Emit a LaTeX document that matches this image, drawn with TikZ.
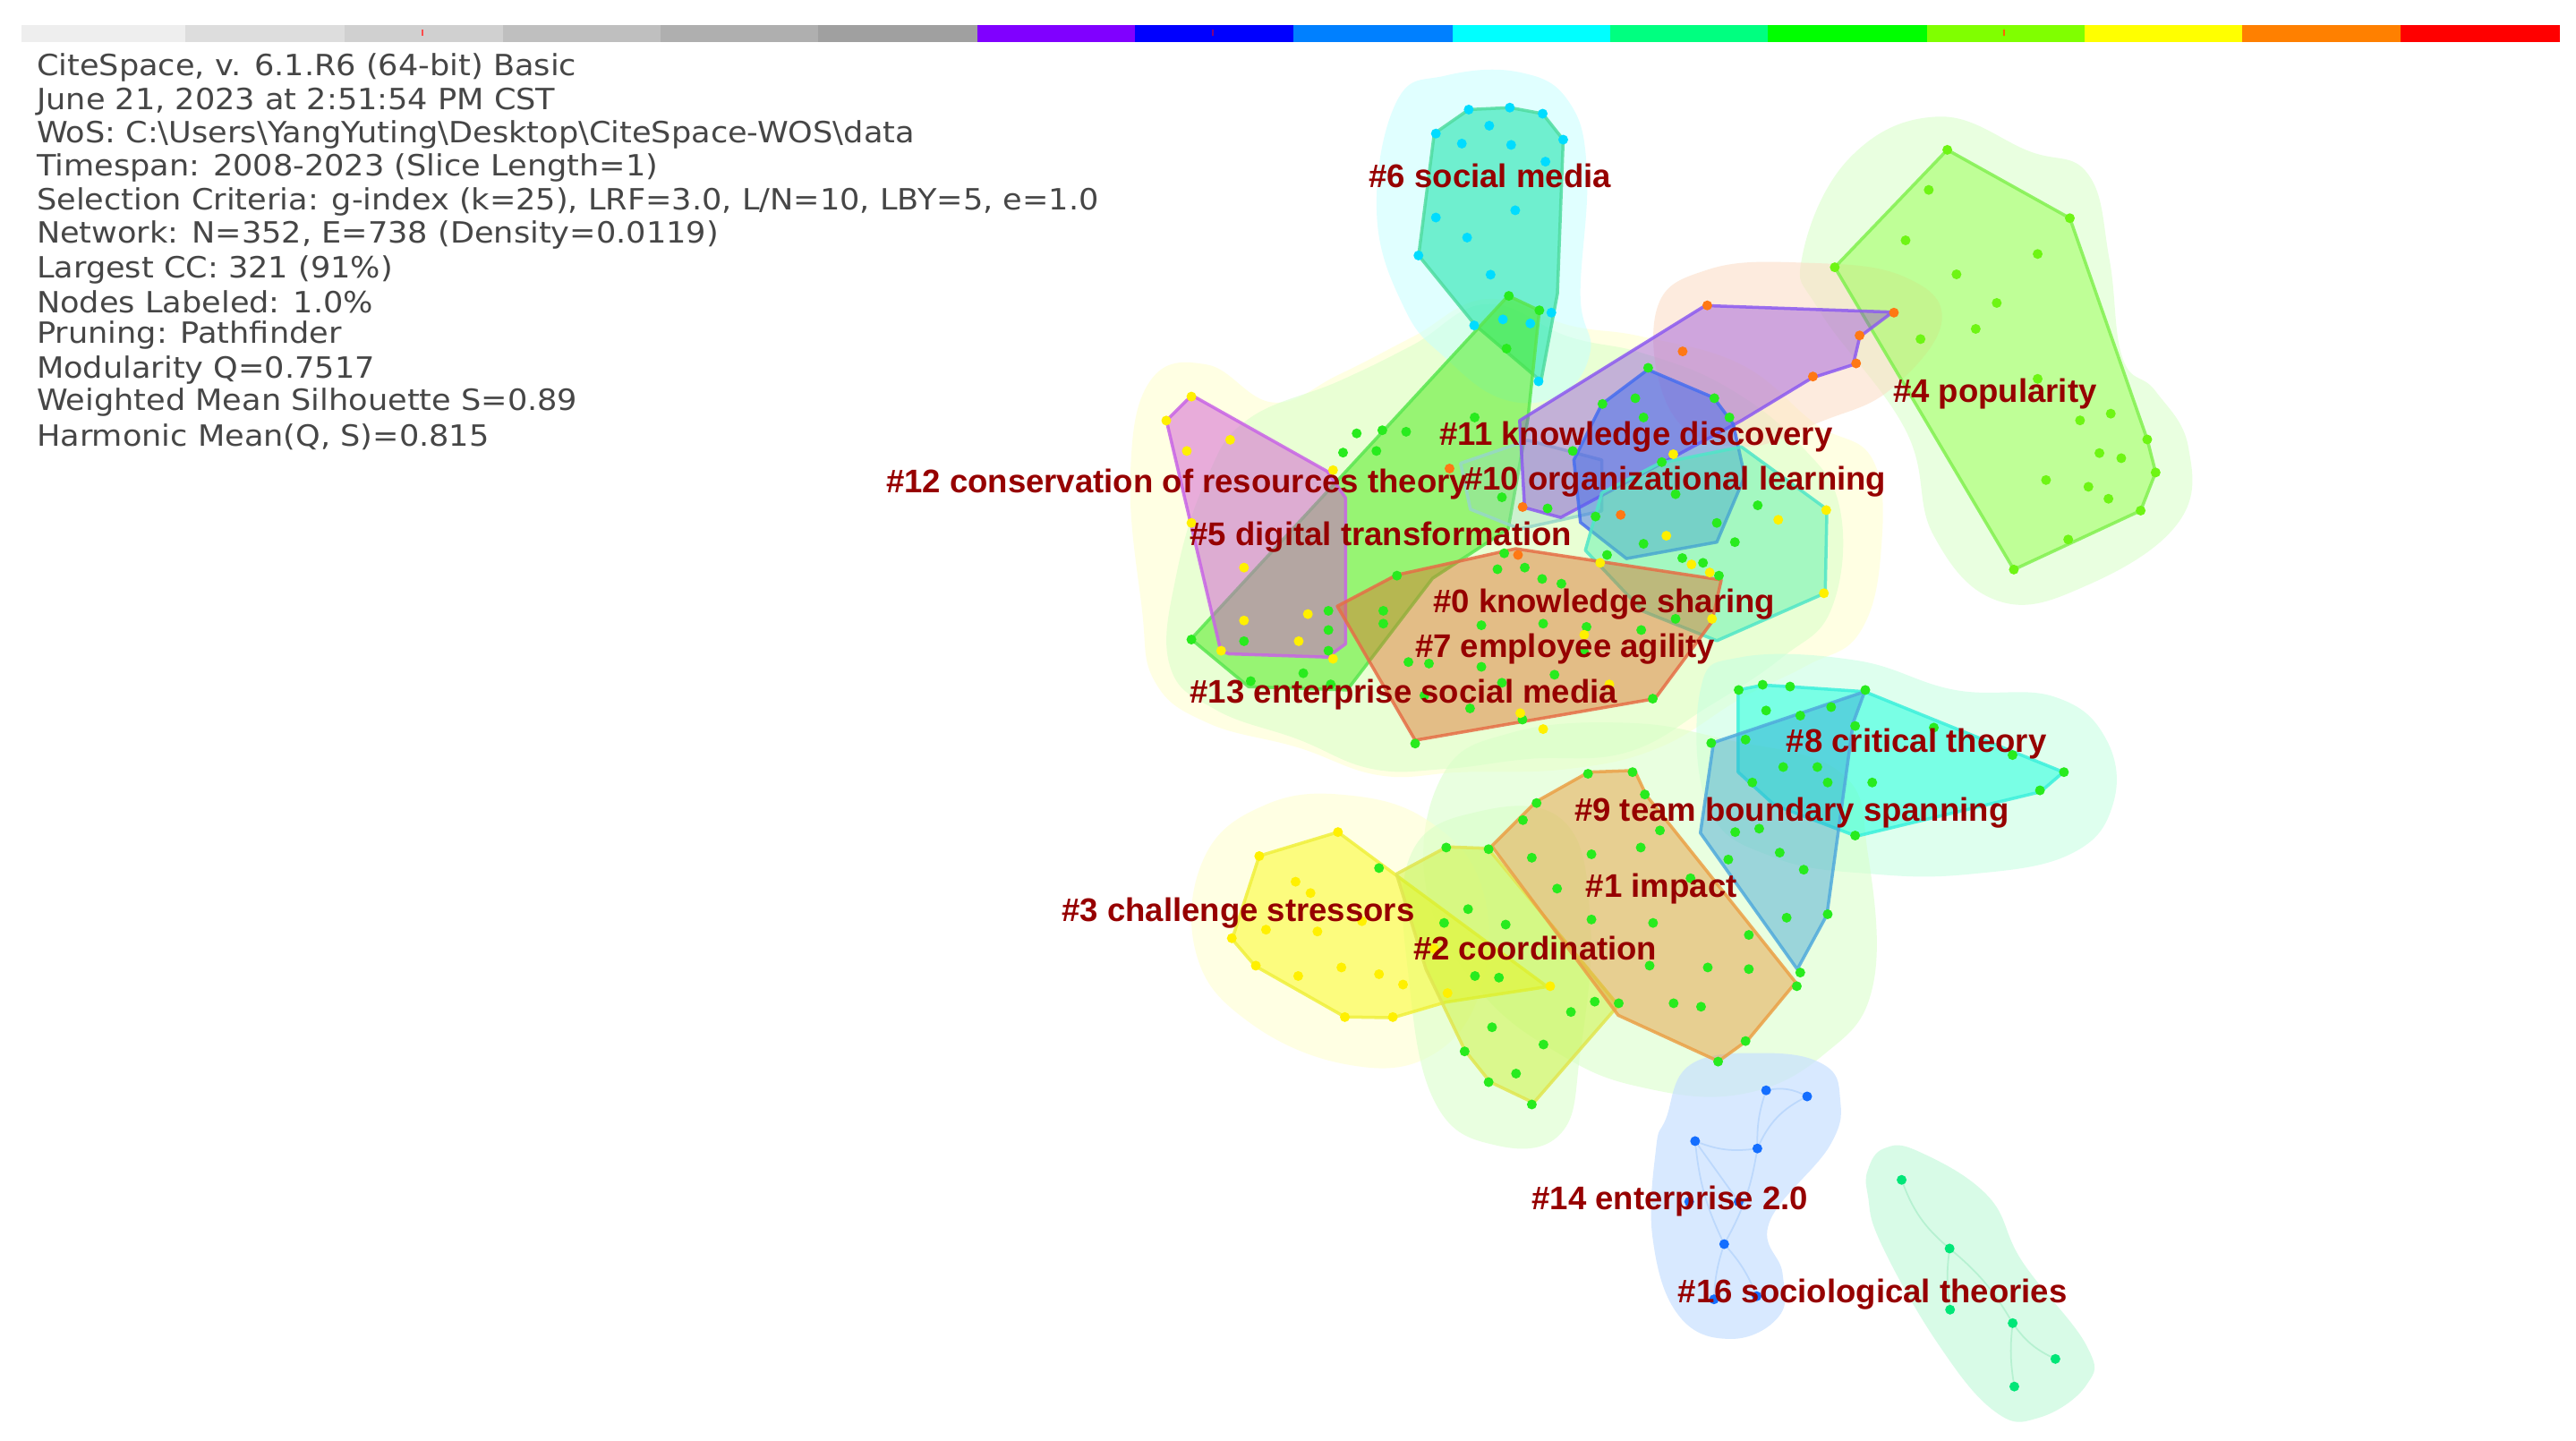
\documentclass[tikz,border=0pt]{standalone}
\usepackage{fontspec}
\newfontfamily\labfont{Liberation Sans}
\newfontfamily\infofont[FakeStretch=1.075]{DejaVu Sans}
\definecolor{labred}{RGB}{150,0,0}
\definecolor{infogray}{RGB}{70,70,70}
\definecolor{dgreen}{RGB}{40,235,30}
\definecolor{dyellow}{RGB}{255,240,0}
\definecolor{dorange}{RGB}{255,120,20}
\definecolor{dcyan}{RGB}{0,220,255}
\definecolor{dblue}{RGB}{20,110,255}
\definecolor{dspring}{RGB}{0,230,120}
\definecolor{dlime}{RGB}{110,245,20}
\tikzset{
  labelsty/.style={anchor=west, inner sep=0pt, font=\labfont\bfseries\fontsize{10.4}{12}\selectfont, text=labred},
  infosty/.style={anchor=west, inner sep=0pt, font=\infofont\fontsize{9.3}{11}\selectfont, text=infogray},
  halo/.style={draw=none, fill opacity=0.55},
  hull/.style={line width=1pt, fill opacity=0.5, draw opacity=0.85, line join=round},
  barseg/.style={draw=none},
  faint/.style={line width=0.5pt, draw opacity=0.6}
}
\begin{document}
\begin{tikzpicture}[x=0.018355cm,y=-0.018355cm]
\useasboundingbox (0,0) rectangle (1568,877.1);
\fill[white] (0,0) rectangle (1568,877.1);
% ---------- colour bar ----------
\foreach \a/\b/\c in {13/113/EEEEEE,113/210/DDDDDD,210/306/D0D0D0,306/402/BFBFBF,402/498/AFAFAF,498/595/A0A0A0,595/691/8000FF,691/787/0000FF,787/884/0080FF,884/980/00FFFF,980/1076/00FF80,1076/1173/00FF00,1173/1269/80FF00,1269/1365/FFFF00,1365/1461/FF8000,1461/1558/FF0000}{
  \definecolor{segc}{HTML}{\c}
  \fill[barseg, segc] (\a,15.5) rectangle (\b,25.5);
}
\draw[red!70, line width=0.6pt] (257,18) -- (257,22);
\draw[violet, line width=0.6pt] (738,18) -- (738,22);
\draw[orange!80!red, line width=0.6pt] (1220,18) -- (1220,22);
% ---------- halos ----------
\definecolor{hcyan}{RGB}{200,255,255}
\definecolor{hgreen}{RGB}{215,255,200}
\definecolor{hyellow}{RGB}{255,255,205}
\definecolor{hpeach}{RGB}{252,220,195}
\definecolor{hmint}{RGB}{195,255,225}
\definecolor{hblue}{RGB}{200,225,255}
\definecolor{hspring}{RGB}{200,250,222}
\definecolor{hteal}{RGB}{150,215,200}
% central big halo (yellowish)
\fill[halo, hyellow] plot[smooth cycle, tension=0.7] coordinates {(700,232) (735,222) (775,245) (815,228) (860,205) (905,182) (955,198) (1000,205) (1060,222) (1105,258) (1140,280) (1145,335) (1132,385) (1100,405) (1060,425) (1010,455) (955,468) (890,470) (840,472) (790,455) (735,440) (703,415) (695,370) (688,290)};
% central green halo
\fill[halo, hgreen] plot[smooth cycle, tension=0.7] coordinates {(760,255) (815,232) (860,210) (905,185) (955,205) (1000,215) (1050,235) (1095,270) (1120,310) (1115,370) (1085,400) (1040,430) (990,458) (930,462) (880,468) (835,468) (790,450) (740,432) (712,405) (716,350) (735,290)};
% #6 halo
\fill[halo, hcyan] plot[smooth cycle, tension=0.7] coordinates {(850,62) (880,46) (925,44) (955,62) (966,105) (962,180) (968,214) (950,240) (915,243) (880,218) (855,188) (838,130)};
% #4 halo
\fill[halo, hgreen] plot[smooth cycle, tension=0.7] coordinates {(1097,156) (1126,96) (1180,71) (1235,92) (1271,106) (1284,158) (1292,218) (1312,238) (1332,272) (1326,318) (1271,356) (1217,366) (1177,326) (1160,262) (1108,190)};
% #11 halo
\fill[halo, hpeach] plot[smooth cycle, tension=0.7] coordinates {(1008,190) (1040,164) (1100,160) (1158,168) (1182,195) (1152,236) (1110,256) (1060,272) (1018,252)};
% #8 halo
\fill[halo, hmint] plot[smooth cycle, tension=0.7] coordinates {(1035,420) (1060,400) (1130,402) (1190,420) (1250,424) (1282,450) (1286,490) (1260,520) (1200,532) (1140,532) (1080,522) (1040,492)};
% #1 / #9 halo
\fill[halo, hgreen] plot[smooth cycle, tension=0.7] coordinates {(878,472) (920,446) (990,440) (1050,450) (1120,470) (1137,520) (1140,600) (1110,642) (1060,666) (1000,662) (950,642) (900,602) (868,540)};
% #3 halo
\fill[halo, hyellow] plot[smooth cycle, tension=0.7] coordinates {(733,522) (770,490) (820,484) (870,500) (902,540) (902,600) (872,642) (820,648) (760,622) (728,580)};
% #2 halo
\fill[halo, hgreen] plot[smooth cycle, tension=0.7] coordinates {(858,522) (900,494) (952,500) (968,560) (962,640) (950,690) (910,697) (874,672) (858,600)};
% #14 halo
\fill[halo, hblue, fill opacity=0.7] plot[smooth cycle, tension=0.7] coordinates {(1014,681) (1029,648) (1074,641) (1110,648) (1120,668) (1114,697) (1077,744) (1085,775) (1083,801) (1054,815) (1022,801) (1006,754) (1008,699)};
% #16 halo
\fill[halo, hspring, fill opacity=0.7] plot[smooth cycle, tension=0.7] coordinates {(1147,699) (1168,701) (1210,728) (1231,768) (1270,819) (1270,843) (1241,863) (1214,859) (1179,817) (1145,757) (1137,728) (1137,712)};
% ---------- hulls ----------
\definecolor{c4f}{RGB}{150,255,80}\definecolor{c4d}{RGB}{130,240,80}
\filldraw[hull, fill=c4f, draw=c4d] (1185.3,91.2) -- (1259.9,132.8) -- (1307,267.5) -- (1312.1,287.6) -- (1303,310.8) -- (1225.8,346.7) -- (1116.8,162.7) -- cycle;
\definecolor{c6f}{RGB}{0,225,160}\definecolor{c6d}{RGB}{80,220,160}
\filldraw[hull, fill=c6f, draw=c6d] (894,66.7) -- (919,65.5) -- (939,69.2) -- (951.5,85) -- (948,178.6) -- (938,232) -- (898,198) -- (863.5,155.5) -- (873,81.3) -- cycle;
\definecolor{c5f}{RGB}{70,235,20}\definecolor{c5d}{RGB}{90,230,80}
\filldraw[hull, fill=c5f, draw=c5d] (918,180) -- (937,189) -- (930,255) -- (918,322) -- (872,352) -- (820,420) -- (760,418) -- (725,389) -- cycle;
\definecolor{c12f}{RGB}{210,90,210}\definecolor{c12d}{RGB}{200,100,230}
\filldraw[hull, fill=c12f, draw=c12d] (725.5,240.6) -- (710,256) -- (743,396) -- (748,398) -- (808,400) -- (819,392) -- (819,303) -- (808,287) -- cycle;
\filldraw[hull, fill=hteal, draw=hteal, fill opacity=0.35] (889,282) -- (930,268) -- (975,280) -- (975,311) -- (925,322) -- (895,310) -- cycle;
\definecolor{c11f}{RGB}{140,60,220}\definecolor{c11d}{RGB}{140,90,240}
\filldraw[hull, fill=c11f, draw=c11d, fill opacity=0.4] (1038,186) -- (1152,190) -- (1132,205) -- (1128,222) -- (1103,230) -- (1060,256) -- (950,315) -- (928,309) -- (925,256) -- cycle;
\definecolor{c10f}{RGB}{50,100,240}\definecolor{c10d}{RGB}{70,110,240}
\filldraw[hull, fill=c10f, draw=c10d, fill opacity=0.45] (1003,225) -- (1043,242) -- (1055,258) -- (1062,290) -- (1045,330) -- (990,340) -- (962,318) -- (958,280) -- (975,246) -- cycle;
\definecolor{c7f}{RGB}{80,240,170}\definecolor{c7d}{RGB}{80,230,200}
\filldraw[hull, fill=c7f, draw=c7d, fill opacity=0.45] (1060,272) -- (1112,310) -- (1111,361) -- (1045,390) -- (1000,372) -- (965,335) -- (975,300) -- (1010,282) -- cycle;
\definecolor{c0f}{RGB}{220,110,40}\definecolor{c0d}{RGB}{230,110,70}
\filldraw[hull, fill=c0f, draw=c0d, fill opacity=0.45] (814,369) -- (850,350) -- (922.6,334) -- (1047.7,353) -- (1042,378.6) -- (1007.4,425.3) -- (861.4,450.6) -- cycle;
\definecolor{c8f}{RGB}{0,255,220}\definecolor{c8d}{RGB}{60,240,220}
\filldraw[hull, fill=c8f, draw=c8d, fill opacity=0.45] (1058,420) -- (1073,417) -- (1090,418) -- (1135,421) -- (1256,470) -- (1242,482) -- (1130,509) -- (1080,490) -- (1058,470) -- cycle;
\definecolor{c9f}{RGB}{40,150,210}\definecolor{c9d}{RGB}{80,170,220}
\filldraw[hull, fill=c9f, draw=c9d, fill opacity=0.4] (1135,421) -- (1128,440) -- (1112,557) -- (1094,590) -- (1035,507) -- (1043,452) -- cycle;
\definecolor{c3f}{RGB}{250,250,60}\definecolor{c3d}{RGB}{240,240,60}
\filldraw[hull, fill=c3f, draw=c3d, fill opacity=0.6] (814.4,506.5) -- (842,527) -- (941.8,600.6) -- (880,610) -- (847.8,619.5) -- (818.6,619) -- (764,588) -- (750,571.7) -- (766.5,521) -- cycle;
\definecolor{c2f}{RGB}{200,240,40}\definecolor{c2d}{RGB}{225,230,80}
\filldraw[hull, fill=c2f, draw=c2d, fill opacity=0.45] (880.7,515.5) -- (905.7,516.4) -- (985,612) -- (933.5,671.3) -- (907,658.6) -- (891.8,639.6) -- (868,590) -- (850,532) -- cycle;
\definecolor{c1f}{RGB}{230,150,50}\definecolor{c1d}{RGB}{235,160,70}
\filldraw[hull, fill=c1f, draw=c1d, fill opacity=0.45] (967,470) -- (995,469) -- (1002,484) -- (1093,598) -- (1064,633) -- (1046,646) -- (985,618) -- (908,515) -- (935,488) -- cycle;
% ---------- faint links ----------
\definecolor{lblue}{RGB}{170,205,250}
\definecolor{lspring}{RGB}{160,235,195}
\draw[faint, lblue] (1075,663.7) to[bend left=20] (1100,667.4);
\draw[faint, lblue] (1075,663.7) to[bend right=10] (1069.7,699.1);
\draw[faint, lblue] (1100,667.4) to[bend right=20] (1069.7,699.1);
\draw[faint, lblue] (1031.8,694.6) to[bend right=15] (1069.7,699.1);
\draw[faint, lblue] (1031.8,694.6) to[bend right=10] (1049.5,757.3);
\draw[faint, lblue] (1069.7,699.1) to[bend left=10] (1049.5,757.3);
\draw[faint, lblue] (1031.8,694.6) -- (1058.3,731.5);
\draw[faint, lblue] (1049.5,757.3) to[bend right=8] (1043.3,790.9);
\draw[faint, lblue] (1049.5,757.3) to[bend left=10] (1069.3,789);
\draw[faint, lspring] (1157.5,718.2) to[bend right=15] (1186.7,760);
\draw[faint, lspring] (1186.7,760) to[bend right=8] (1187,797.2);
\draw[faint, lspring] (1186.7,760) to[bend left=10] (1225.1,805.4);
\draw[faint, lspring] (1225.1,805.4) to[bend right=15] (1251.1,827.2);
\draw[faint, lspring] (1225.1,805.4) to[bend right=8] (1226.1,844);
% ---------- dots ----------
\foreach \x/\y in {894/66.7,919/65.5,939/69.2,906.5/76.5,874/81.3,951.5/85,889.8/87.4,919.8/88.2,940.7/98.4,922.3/128,874/132.4,893/144.6,863.4/155.5,907.3/167.2,897.3/198.1,914.8/194.4,931.5/196.9,936.5/232.1,944.3/190.3}
  \fill[dcyan] (\x,\y) circle[radius=3];
\foreach \x/\y in {1185.3/91.2,1174/115.6,1259.9/132.8,1159.9/146.3,1240.3/154.6,1116.8/162.7,1190.9/167,1215.4/184.4,1202.6/200.2,1169/206.4,1240.3/230.6,1284.8/251.8,1266.1/255.9,1307/267.5,1277.9/275.8,1291.2/278.9,1312.1/287.6,1245.4/292.2,1271.2/296.3,1283.4/303.6,1303/310.8,1258.9/328.4,1225.8/346.7}
  \fill[dlime] (\x,\y) circle[radius=3];
\foreach \x/\y in {1039.2/185.9,1152.8/190.3,1131.9/204.2,1129.8/221.2,1103.5/229.2,1024.2/213.9,882.3/285.2,926.8/308.6,986.5/313.4,924/337.8}
  \fill[dorange] (\x,\y) circle[radius=3];
\foreach \x/\y in {918.4/180.1,937/188.9,917/212.2,897.6/254.1,825.8/263.8,841.4/261.9,855.9/262.8,817.5/275.5,837.8/274.5,1003.2/223.9,975.4/245.9,995.4/242.4,1043.5/242.4,1000.4/254.1,1052.7/254.1,957.3/274.5,1011.5/281.3,1019.9/300.8,942/309.5,971.2/314.4,1069.9/307.6,1045/318.3,1000.4/331,1056/330,914.2/302.7,915.6/336.8,928.1/345.5,938.7/352.4,950.4/355.3,978.2/337.8,1024/339.7,1036.6/342.6,1046.3/350.4,911.5/346.5,850.3/350.4,842/371.8,842/379.6,808.6/371.8,808.6/383.5,757.2/390.3,725.2/389.3,808.6/396.1,793.3/409.8,761.3/414.6,810/416.6,901.7/380.6,939.3/379.6,965.7/381.6,1019.9/376.7,999/383.5,964.3/397.1,946.2/410.7,901.7/405.9,869.8/403.9,857.3/403,867/423.4,894.8/431.2,926.7/438,1006/425.3,861.4/452.6,914.2/415.6}
  \fill[dgreen] (\x,\y) circle[radius=3];
\foreach \x/\y in {725.2/241.4,709.9/256,748.8/267.7,722.4/274.5,811.4/286.2,725.2/318.3,757.2/345.5,757.2/377.7,796.1/373.8,790.5/390.3,811.4/401,743.3/396.1,1018.5/276.5,1014.3/326.1,1082.4/316.4,1111.6/310.5,1110.2/361.1,1029.6/343.6,1040.7/348.5,974/342.6,1042.1/376.7,964.3/386.4,979.6/416.6,925.4/434.1,939.3/443.8}
  \fill[dyellow] (\x,\y) circle[radius=3];
\foreach \x/\y in {1058.3/420,1072.9/416.8,1089.6/417.9,1135.4/420,1075/432.5,1095.8/435.6,1114.6/430.4,1129.2/441.9,1177.1/442.9,1041.6/452.3,1062.5/450.2,1085.4/466.9,1106.2/466.9,1066.6/476.3,1112.5/476.3,1139.6/476.3,1225/459.6,1256.3/470,1241.7/481.1,1129.2/508.6,1056.2/506.5,1070.8/504.4,1052/523.2,1097.9/529.4,1083.3/519,1029/534.6,1087.5/558.6,1112.5/556.5,1095.8/592,1093.7/600.3,1062.5/633.7,1045.8/646.2,966.6/471,993.7/470,1001.2/483.6,935.3/488.8,927/499.2,906.1/516.9,880.3/515.9,932.4/522.1,968.7/520,998.7/515.9,1010.4/505.5,947.8/540.9,968.7/559.7,1006.2/561.8,1064.5/569.1,1039.5/588.9,1064.5/589.9,1004.1/587.8,1018.7/610.7,1035.4/612.8,985.3/610.7,970.7/609.7,893.6/553.4,916.5/562.8,879/561.8,897.8/594.1,912.4/595.1,956.2/616,908.2/625.3,939.5/635.8,891.5/640,922.8/653.5,906.1/658.7,932.4/672.3,839.4/528.4}
  \fill[dgreen] (\x,\y) circle[radius=3];
\foreach \x/\y in {814.4/506.5,766.5/521.1,788.6/536.7,797.7/543.6,749.8/571.1,770.6/565.9,801.9/567,829/560.7,764.4/587.8,790.2/594.1,816.5/588.9,839.4/593,854/599.3,818.6/619.1,847.8/619.1,881.1/604.5,943.6/600.3,872.8/577.4}
  \fill[dyellow] (\x,\y) circle[radius=3];
\foreach \x/\y in {1075/663.7,1100/667.4,1031.8/694.6,1069.7/699.1,1028.2/731.5,1058.3/731.5,1049.5/757.3,1043.3/790.9,1069.3/789}
  \fill[dblue] (\x,\y) circle[radius=3];
\foreach \x/\y in {1157.5/718.2,1186.7/760,1187/797.2,1225.1/805.4,1251.1/827.2,1226.1/844}
  \fill[dspring] (\x,\y) circle[radius=3];
% ---------- info text ----------
\node[infosty] (i1) at (22,41) {CiteSpace, v. 6.1.R6 (64-bit) Basic};
\node[infosty] (i2) at (22,62) {June 21, 2023 at 2:51:54 PM CST};
\node[infosty] (i3) at (22,82) {WoS: C:\textbackslash Users\textbackslash YangYuting\textbackslash Desktop\textbackslash CiteSpace-WOS\textbackslash data};
\node[infosty] (i4) at (22,102) {Timespan: 2008-2023 (Slice Length=1)};
\node[infosty] (i5) at (22,123) {Selection Criteria: g-index (k=25), LRF=3.0, L/N=10, LBY=5, e=1.0};
\node[infosty] (i6) at (22,143) {Network: N=352, E=738 (Density=0.0119)};
\node[infosty] (i7) at (22,164) {Largest CC: 321 (91\%)};
\node[infosty] (i8) at (22,184) {Nodes Labeled: 1.0\%};
\node[infosty] (i9) at (22,204) {Pruning: Pathfinder};
\node[infosty] (i10) at (22,225) {Modularity Q=0.7517};
\node[infosty] (i11) at (22,245) {Weighted Mean Silhouette S=0.89};
\node[infosty] (i12) at (22,266) {Harmonic Mean(Q, S)=0.815};
% ---------- cluster labels ----------
\node[labelsty] (l6) at (833,107) {\#6 social media};
\node[labelsty] (l4) at (1152,240) {\#4 popularity};
\node[labelsty] (l11) at (876,266) {\#11 knowledge discovery};
\node[labelsty] (l12) at (539,295) {\#12 conservation of resources theory};
\node[labelsty] (l10) at (891,293) {\#10 organizational learning};
\node[labelsty] (l5) at (724,327) {\#5 digital transformation};
\node[labelsty] (l0) at (872,368) {\#0 knowledge sharing};
\node[labelsty] (l7) at (861,395) {\#7 employee agility};
\node[labelsty] (l13) at (724,423) {\#13 enterprise social media};
\node[labelsty] (l8) at (1087,453) {\#8 critical theory};
\node[labelsty] (l9) at (958,495) {\#9 team boundary spanning};
\node[labelsty] (l1) at (965,541) {\#1 impact};
\node[labelsty] (l3) at (646,556) {\#3 challenge stressors};
\node[labelsty] (l2) at (860,577) {\#2 coordination};
\node[labelsty] (l14) at (932,731) {\#14 enterprise 2.0};
\node[labelsty] (l16) at (1021,788) {\#16 sociological theories};
\end{tikzpicture}
\end{document}
